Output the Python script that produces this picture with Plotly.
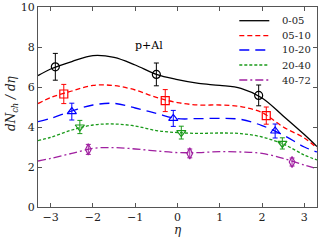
import plotly.graph_objects as go

# centrality classes
classes = ["0-05", "05-10", "10-20", "20-40", "40-72"]
colors = ["#000000", "#ff0000", "#0000ff", "#1a9a1a", "#a020a0"]
dashes = ["solid", "5px,3px", "10px,6px", "3px,2px", "8px,3px,2px,3px"]
symbols = ["circle-open", "square-open", "triangle-up-open", "triangle-down-open", "diamond-tall-open"]

# model curves
eta_curve = [-3.3, -3.0, -2.5, -2.0, -1.5, -1.0, -0.5, 0.0, 0.5, 1.0, 1.5, 2.0, 2.5, 3.0, 3.3]
curve_0_05 = [6.57, 6.90, 7.27, 7.57, 7.48, 7.10, 6.63, 6.37, 6.18, 6.08, 5.93, 5.45, 4.55, 3.62, 3.02]
curve_05_10 = [5.17, 5.47, 5.80, 6.08, 6.07, 5.85, 5.48, 5.22, 5.10, 5.10, 5.02, 4.72, 4.00, 3.45, 2.95]
curve_10_20 = [4.27, 4.43, 4.80, 5.10, 5.18, 4.95, 4.68, 4.42, 4.42, 4.43, 4.38, 4.07, 3.60, 3.00, 2.75]
curve_20_40 = [3.32, 3.48, 3.85, 4.10, 4.15, 4.05, 3.82, 3.72, 3.68, 3.70, 3.67, 3.50, 3.15, 2.60, 2.35]
curve_40_72 = [2.30, 2.43, 2.68, 2.93, 2.97, 2.90, 2.80, 2.72, 2.72, 2.77, 2.75, 2.68, 2.43, 2.10, 1.92]
curves = [curve_0_05, curve_05_10, curve_10_20, curve_20_40, curve_40_72]

# data points with error bars
eta_pts = [[-2.89, -0.50, 1.92], [-2.69, -0.29, 2.10], [-2.50, -0.10, 2.31],
           [-2.31, 0.09, 2.48], [-2.11, 0.29, 2.71]]
val_pts = [[7.01, 6.63, 5.58], [5.65, 5.32, 4.57], [4.77, 4.43, 3.80],
           [4.00, 3.72, 3.18], [2.88, 2.68, 2.25]]
err_pts = [[0.67, 0.57, 0.52], [0.48, 0.55, 0.43], [0.42, 0.40, 0.35],
           [0.33, 0.32, 0.28], [0.25, 0.22, 0.20]]

x_ticks = [-3, -2, -1, 0, 1, 2, 3]
x_ticktext = ["\u22123", "\u22122", "\u22121", "0", "1", "2", "3"]
y_ticks = [0, 2, 4, 6, 8, 10]

FONT = "DejaVu Serif"
TXT = "#222222"
fig = go.Figure()
for i, name in enumerate(classes):
    fig.add_trace(go.Scatter(
        x=eta_curve, y=curves[i], mode="lines", name=name, showlegend=False,
        line=dict(color=colors[i], width=1.3, dash=dashes[i], shape="spline", smoothing=1.0),
    ))
for i, name in enumerate(classes):
    fig.add_trace(go.Scatter(
        x=eta_pts[i], y=val_pts[i], mode="markers", showlegend=False,
        marker=dict(symbol=symbols[i], size=8, color=colors[i], line=dict(width=1.2, color=colors[i])),
        error_y=dict(type="data", array=err_pts[i], color=colors[i], thickness=1, width=2.5),
    ))

axis_common = dict(
    showline=True, linecolor="#555555", linewidth=1, mirror="ticks",
    ticks="inside", ticklen=4, tickcolor="#555555", showgrid=False, zeroline=False,
    tickfont=dict(family=FONT, size=11, color=TXT), automargin=False,
)
fig.update_xaxes(range=[-3.3, 3.3], tickvals=x_ticks, ticktext=x_ticktext, **axis_common)
fig.update_yaxes(range=[0, 10], tickvals=y_ticks, **axis_common)

# axis titles
fig.add_annotation(xref="paper", yref="paper", x=0.5, y=-0.115, text="<i>\u03b7</i>",
                   showarrow=False, xanchor="center", yanchor="middle",
                   font=dict(family=FONT, size=12, color=TXT))
fig.add_annotation(xref="paper", yref="paper", x=-0.093, y=0.52,
                   text="<i>dN<sub>ch</sub> / d\u03b7</i>", textangle=-90,
                   showarrow=False, xanchor="center", yanchor="middle",
                   font=dict(family=FONT, size=12, color=TXT))

fig.add_annotation(x=-0.67, y=8.1, text="p+Al", showarrow=False,
                   font=dict(family=FONT, size=11, color="#000000"))

# legend (drawn in paper coordinates)
leg_y = [0.9315, 0.8565, 0.785, 0.71, 0.635]
for i, name in enumerate(classes):
    fig.add_shape(type="line", xref="paper", yref="paper",
                  x0=0.7215, x1=0.829, y0=leg_y[i], y1=leg_y[i],
                  line=dict(color=colors[i], width=1.3, dash=dashes[i]))
    fig.add_annotation(xref="paper", yref="paper", x=0.867, y=leg_y[i], text=name,
                       showarrow=False, xanchor="left", yanchor="middle",
                       font=dict(family=FONT, size=10, color=TXT))

fig.update_layout(
    width=320, height=240,
    margin=dict(l=38, r=3, t=7, b=33, autoexpand=False),
    paper_bgcolor="white", plot_bgcolor="white",
    showlegend=False,
)

fig.write_html("out.html", config={"displayModeBar": False},
               post_script="document.body.style.margin='0';document.body.style.padding='0';")
